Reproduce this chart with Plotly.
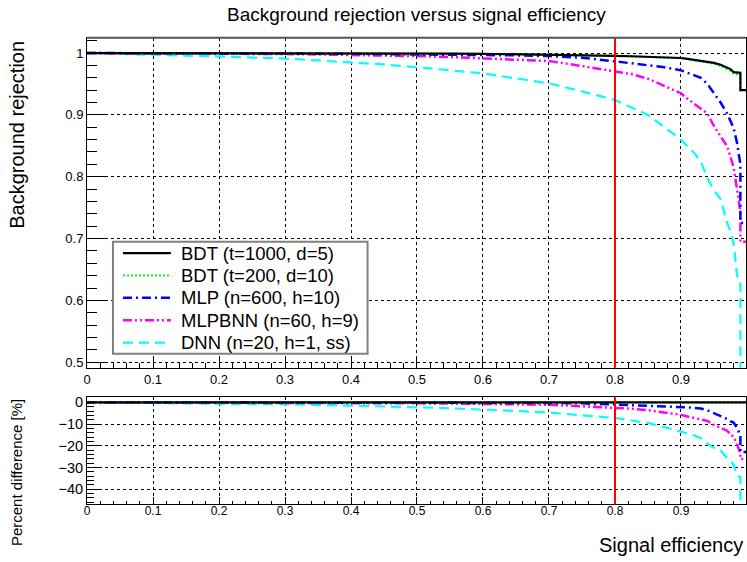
import plotly.graph_objects as go

# ---------------- data ----------------
signal_eff = [0.0, 0.05, 0.1, 0.15, 0.2, 0.25, 0.3, 0.35, 0.4, 0.45, 0.5, 0.55, 0.6, 0.65,
              0.7, 0.75, 0.8, 0.825, 0.85, 0.875, 0.9, 0.91, 0.92, 0.93, 0.94, 0.95, 0.96,
              0.97, 0.975, 0.98, 0.985, 0.99, 0.99, 1.0]

bdt_1000 = [1.0, 1.0, 1.0, 1.0, 1.0, 0.9999, 0.9998, 0.9997, 0.9996, 0.9995, 0.9993, 0.9990,
            0.9987, 0.9982, 0.9976, 0.9968, 0.9955, 0.9948, 0.9940, 0.9930, 0.9920, 0.9905,
            0.9890, 0.9875, 0.9858, 0.9840, 0.9810, 0.9765, 0.9740, 0.9690, 0.9680, 0.9680,
            0.9400, 0.9400]

bdt_200 = [1.0, 1.0, 1.0, 1.0, 1.0, 0.9999, 0.9998, 0.9997, 0.9996, 0.9994, 0.9992, 0.9989,
           0.9986, 0.9981, 0.9975, 0.9966, 0.9953, 0.9946, 0.9937, 0.9927, 0.9916, 0.9900,
           0.9884, 0.9868, 0.9850, 0.9825, 0.9790, 0.9740, 0.9710, 0.9660, 0.9650, 0.9650,
           0.9400, 0.9400]

mlp = [1.0, 1.0, 0.9998, 0.9997, 0.9996, 0.9994, 0.9992, 0.9990, 0.9987, 0.9983, 0.9980,
       0.9975, 0.9970, 0.9962, 0.9950, 0.9925, 0.9865, 0.9830, 0.9800, 0.9770, 0.9720,
       0.9680, 0.9640, 0.9600, 0.9500, 0.9350, 0.9200, 0.9020, 0.8900, 0.8780, 0.8540,
       0.8200, 0.7250, 0.7250]

mlpbnn = [1.0, 0.9999, 0.9997, 0.9995, 0.9992, 0.9988, 0.9983, 0.9977, 0.9970, 0.9960,
          0.9950, 0.9935, 0.9915, 0.9890, 0.9870, 0.9790, 0.9710, 0.9660, 0.9585, 0.9470,
          0.9350, 0.9260, 0.9180, 0.9110, 0.9020, 0.8820, 0.8660, 0.8490, 0.8320, 0.8140,
          0.7790, 0.7440, 0.6950, 0.6950]

dnn = [1.0, 0.9990, 0.9970, 0.9958, 0.9945, 0.9930, 0.9910, 0.9880, 0.9850, 0.9815, 0.9770,
       0.9720, 0.9670, 0.9590, 0.9510, 0.9380, 0.9240, 0.9120, 0.9000, 0.8800, 0.8600,
       0.8490, 0.8386, 0.8245, 0.7980, 0.7780, 0.7640, 0.7250, 0.7120, 0.6900, 0.6400,
       0.6350, 0.4500, 0.4500]

series_names = ["BDT (t=1000, d=5)", "BDT (t=200, d=10)", "MLP (n=600, h=10)",
                "MLPBNN (n=60, h=9)", "DNN (n=20, h=1, ss)"]
series_values = [bdt_1000, bdt_200, mlp, mlpbnn, dnn]
reference_values = bdt_1000
cut_efficiency = 0.8

x_ticks = [0, 0.1, 0.2, 0.3, 0.4, 0.5, 0.6, 0.7, 0.8, 0.9]
top_y_ticks = [0.5, 0.6, 0.7, 0.8, 0.9, 1.0]
top_y_labels = ["0.5", "0.6", "0.7", "0.8", "0.9", "1"]
bottom_y_ticks = [0, -10, -20, -30, -40]

# ---------------- styles ----------------
colors = ["#000000", "#00ff00", "#0000ff", "#ff00ff", "#00ffff"]
dashes = ["solid", "2px,2px", "9px,4px,2px,4px", "9px,3px,2px,3px,2px,3px", "10px,6px"]
widths = [2.2, 2, 2.5, 2.5, 2.2]
draw_order = [4, 3, 2, 1, 0]   # reference curve drawn last (on top)

FONT = "Liberation Sans, Arial, Helvetica, sans-serif"
W, H = 747, 562
plot_left, plot_right = 87, 747
PW = plot_right - plot_left
top_y0, top_y1 = 35, 368
bot_y0, bot_y1 = 398, 506


def px_x(p):
    return (p - plot_left) / PW


def px_y(p):
    return 1 - p / H


def pdom(a, b):
    return [px_y(b), px_y(a)]


fig = go.Figure()

for i in draw_order:
    fig.add_trace(go.Scatter(x=signal_eff, y=series_values[i], mode="lines", name=series_names[i],
                             line=dict(color=colors[i], dash=dashes[i], width=widths[i]),
                             xaxis="x", yaxis="y", showlegend=False))

for i in draw_order:
    pct = [100.0 * (v - r) / r for v, r in zip(series_values[i], reference_values)]
    fig.add_trace(go.Scatter(x=signal_eff, y=pct, mode="lines", name=series_names[i],
                             line=dict(color=colors[i], dash=dashes[i], width=widths[i]),
                             xaxis="x2", yaxis="y2", showlegend=False))

x_range = [0, 0.9985]

common_x = dict(range=x_range, tickvals=x_ticks, ticks="inside", tickcolor="black",
                showline=True, linecolor="black", linewidth=1, mirror=True,
                showgrid=True, gridcolor="black", griddash="dot", gridwidth=1,
                zeroline=False, fixedrange=True)

# ---------------- legend (drawn box) ----------------
leg_left, leg_top, leg_right, leg_bottom = 113, 241, 368, 354
row_h = (leg_bottom - leg_top) / len(series_names)
shapes = [
    dict(type="line", xref="x", yref="y domain", x0=cut_efficiency, x1=cut_efficiency,
         y0=0, y1=1, line=dict(color="#ff0000", width=2)),
    dict(type="line", xref="x2", yref="y2 domain", x0=cut_efficiency, x1=cut_efficiency,
         y0=0, y1=1, line=dict(color="#ff0000", width=2)),
    dict(type="rect", xref="paper", yref="paper", x0=px_x(leg_left), x1=px_x(leg_right),
         y0=px_y(leg_bottom), y1=px_y(leg_top), fillcolor="white",
         line=dict(color="#808080", width=2), layer="above"),
    dict(type="line", xref="paper", yref="paper", x0=0, x1=1, y0=px_y(top_y0), y1=px_y(top_y0),
         line=dict(color="#555555", width=2), layer="above"),
]
annotations = [
    dict(text="Background rejection versus signal efficiency", xref="paper", yref="paper",
         x=px_x((plot_left + 748) / 2), y=px_y(12), xanchor="center", yanchor="middle",
         showarrow=False, font=dict(size=19, family=FONT)),
    dict(text="Background rejection", xref="paper", yref="paper",
         x=px_x(17), y=px_y(36), xanchor="center", yanchor="top",
         textangle=-90, showarrow=False, font=dict(size=20, family=FONT)),
    dict(text="Percent difference [%]", xref="paper", yref="paper",
         x=px_x(17), y=px_y(398), xanchor="center", yanchor="top",
         textangle=-90, showarrow=False, font=dict(size=15, family=FONT)),
    dict(text="Signal efficiency", xref="paper", yref="paper",
         x=px_x(746), y=px_y(547), xanchor="right", yanchor="middle",
         showarrow=False, font=dict(size=20, family=FONT)),
]
for i, (name, c, d, w) in enumerate(zip(series_names, colors, dashes, widths)):
    yc = leg_top + row_h * (i + 0.5)
    shapes.append(dict(type="line", xref="paper", yref="paper",
                       x0=px_x(123), x1=px_x(171), y0=px_y(yc), y1=px_y(yc),
                       line=dict(color=c, dash=d, width=w), layer="above"))
    annotations.append(dict(text=name, xref="paper", yref="paper",
                            x=px_x(179), y=px_y(yc), xanchor="left", yanchor="middle",
                            showarrow=False, font=dict(size=18.5, family=FONT)))

fig.update_layout(
    width=W, height=H, autosize=False,
    margin=dict(l=plot_left, r=W - plot_right, t=0, b=0, pad=0),
    paper_bgcolor="white", plot_bgcolor="white",
    font=dict(family=FONT, color="black"),
    showlegend=False,
    xaxis=dict(**common_x, domain=[0, 1], anchor="y", ticklen=10,
               tickfont=dict(size=13),
               minor=dict(ticks="inside", ticklen=5, dtick=0.02, tick0=0, tickcolor="black", showgrid=False)),
    yaxis=dict(domain=pdom(top_y0, top_y1), range=[0.4912, 1.0248], anchor="x",
               tickvals=top_y_ticks, ticktext=top_y_labels,
               ticks="inside", ticklen=20, tickcolor="black", tickfont=dict(size=13),
               showline=True, linecolor="black", linewidth=1, mirror=True,
               showgrid=True, gridcolor="black", griddash="dot", gridwidth=1,
               zeroline=False, fixedrange=True,
               minor=dict(ticks="inside", ticklen=10, dtick=0.02, tick0=0, tickcolor="black", showgrid=False)),
    xaxis2=dict(**common_x, domain=[0, 1], anchor="y2", ticklen=7,
                tickfont=dict(size=12), ticklabelstandoff=-5,
                minor=dict(ticks="inside", ticklen=3, dtick=0.02, tick0=0, tickcolor="black", showgrid=False)),
    yaxis2=dict(domain=pdom(bot_y0, bot_y1), range=[-47.03, 2.28], anchor="x2",
                tickvals=bottom_y_ticks, ticks="inside", ticklen=15, tickcolor="black",
                tickfont=dict(size=14.5),
                showline=True, linecolor="black", linewidth=1, mirror=True,
                showgrid=True, gridcolor="black", griddash="dot", gridwidth=1,
                zeroline=False, fixedrange=True,
                minor=dict(ticks="inside", ticklen=7, dtick=2, tick0=0, tickcolor="black", showgrid=False)),
    shapes=shapes,
    annotations=annotations,
)

fig.write_html("out.html", config={"displayModeBar": False, "staticPlot": True},
               post_script="document.body.style.margin='0';document.body.style.overflow='hidden';")
